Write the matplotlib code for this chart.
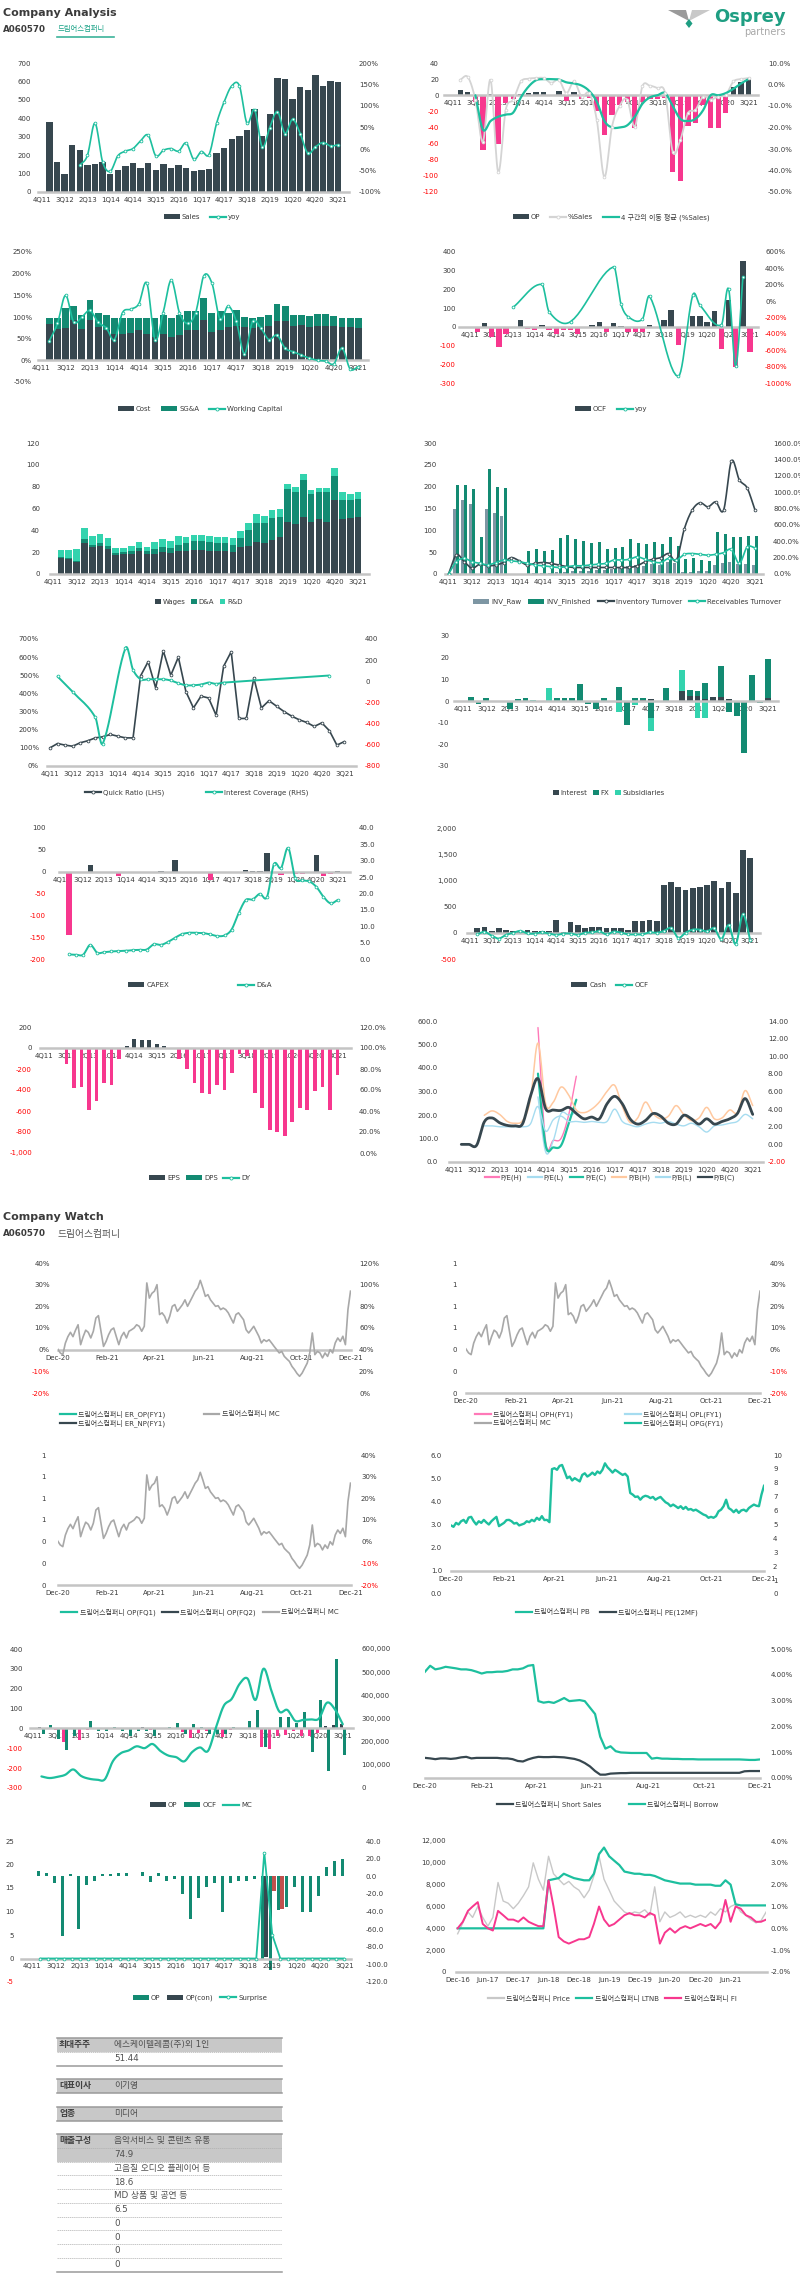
import numpy as np
import pandas as pd
import matplotlib
matplotlib.use("Agg")
import matplotlib.pyplot as plt
import matplotlib.dates as mdates
from matplotlib.patches import Rectangle, Polygon, Patch
from matplotlib.lines import Line2D

plt.rcParams['font.family'] = ['DejaVu Sans', 'Noto Sans CJK KR']
plt.rcParams['axes.unicode_minus'] = False
nan = np.nan

# ======================= DATA =======================
QUARTERS = [f"{(k + 3) % 4 + 1}Q{11 + (k + 3) // 4:02d}" for k in range(40)]

SALES = [nan, 378, 163, 95, 255, 228, 145, 152, 165, 100, 118, 140, 160, 128, 155, 118, 152, 130, 145, 132,
         115, 118, 125, 210, 238, 288, 305, 338, 448, 305, 425, 618, 615, 502, 568, 552, 635, 575, 602, 598]
SALES_YOY = [nan, nan, nan, nan, nan, -38, -15, 60, -30, -52, -16, -5, 1, 19, 32, -16, -3, 1, -5, 14,
             -24, -6, -13, 60, 110, 147, 147, 60, 91, 5, 50, 87, 36, 69, 36, -10, 5, 15, 7, 10]

OP = [nan, 6, 4, -8, -68, 2, -60, -10, -5, 2, 3, 4, 4, 0, 5, -7, 4, -5, -3, -20,
      -49, -25, -12, -8, -41, -8, -5, -5, -3, -95, -106, -38, -35, -12, -40, -40, -22, 10, 17, 20]
OP_PCT = [nan, 2.2, 3.5, -7, -26.6, 2.2, -40.6, -11.8, -7, 1.4, 2.7, 3.0, 3.0, 0.7, 2.2, -4.0, 1.4, -5.6, -4, -16.5,
          -43, -19.6, -10, -7, -19.6, -0.9, -0.6, -1.7, -4, -31.3, -25.8, -13.4, -11.8, -5.6, -7, -5.6, -4.8, 1.4, 2.5, 3.0]
OP_MA = [nan, nan, nan, -5, -21, -17, -15, -14, -13, -6, -1, 2, 2.5, 2.5, 2.3, 1.0, 0.5, -0.5, -3, -8,
         -17, -20, -20, -19, -15, -9, -6, -5, -4, -10, -16, -17, -16, -12, -5, -5, -4, -2, 0.5, 2.5]

COST = [nan, 85, 72, 75, 92, 72, 93, 76, 70, 60, 60, 63, 70, 60, 55, 60, 55, 58, 70, 70,
        92, 65, 70, 78, 80, 77, 75, 77, 80, 90, 90, 80, 82, 77, 80, 80, 80, 78, 76, 75]
SGA = [nan, 13, 25, 45, 33, 33, 47, 34, 35, 37, 37, 34, 27, 37, 42, 45, 42, 47, 43, 43,
       51, 45, 43, 32, 37, 23, 22, 23, 24, 40, 35, 25, 23, 26, 26, 26, 23, 19, 21, 22]
WC = [nan, 45, 85, 150, 88, 100, 115, 88, 75, 48, 110, 118, 130, 178, 48, 110, 185, 110, 85, 110,
      195, 178, 95, 125, 90, 15, 90, 75, 48, 58, 28, 20, 12, 5, 0, -2, -8, 28, -20, -15]

OCF = [nan, -30, 18, -55, -110, -40, 0, 35, -12, -15, 8, -15, -40, -15, -15, -40, 0, 8, 28, -30,
       22, 5, -30, -30, -30, 8, 0, 35, 92, -95, 0, 60, 60, 28, 85, -120, 145, -215, 350, -135]
OCF_YOY = [nan, nan, nan, nan, nan, nan, -75, nan, nan, nan, 205, -130, nan, nan, -250, nan, nan, nan, nan, nan,
           420, -30, -190, nan, -220, 60, nan, nan, nan, -920, nan, 70, -50, nan, nan, -290, 150, -790, 300, nan]

WAGES = [nan, 15, 14, 11, 28, 25, 26, 23, 17, 18, 18, 21, 18, 18, 20, 19, 21, 21, 22, 22,
         21, 21, 21, 20, 25, 26, 29, 28, 31, 34, 48, 46, 52, 48, 50, 48, 68, 50, 51, 52]
DA = [nan, 1, 1, 1, 4, 2, 2, 3, 2, 2, 3, 3, 3, 5, 5, 5, 6, 7, 8, 8,
      8, 7, 7, 7, 8, 14, 18, 19, 20, 18, 30, 29, 34, 25, 25, 27, 22, 18, 17, 17]
RD = [nan, 6, 7, 11, 10, 8, 9, 7, 5, 4, 5, 5, 4, 6, 7, 6, 8, 6, 6, 6,
      6, 6, 6, 6, 6, 7, 8, 6, 8, 8, 4, 5, 6, 4, 4, 4, 7, 7, 5, 6]

INV_RAW = [nan, 148, 170, 160, 0, 148, 140, 133, nan, nan, 0, 3, 3, 3, 5, 5, 8, 8, 8, 10,
           10, 12, 15, 18, 20, 18, 22, 20, 28, 25, 5, 5, 8, 8, 20, 25, 28, 22, 22, 20]
INV_FIN = [nan, 203, 203, 194, 84, 240, 200, 197, nan, nan, 52, 57, 53, 55, 83, 90, 80, 75, 72, 74,
           57, 60, 62, 80, 70, 68, 73, 68, 85, 65, 35, 36, 32, 30, 96, 92, 85, 85, 88, 88]
INV_TURN = [0, 233, 150, 70, 120, 100, 110, 140, 200, 160, 110, 130, 140, 130, 110, 90, 80, 80, 80, 80,
            80, 80, 80, 80, 100, 150, 180, 200, 250, 170, 550, 780, 870, 820, 880, 780, 1380, 1150, 1050, 780]
REC_TURN = [0, 150, 190, 150, 130, 110, 140, 170, 160, 150, 130, 110, 100, 90, 80, 90, 100, 100, 110, 120,
            130, 170, 170, 180, 210, 180, 150, 140, 190, 170, 240, 250, 240, 230, 240, 260, 300, 130, 330, 320]

QUICK = [100, 124, 115, 109, 128, 139, 155, 161, 174, 164, 155, 155, 497, 575, 430, 635, 500, 600, 410, 320,
         385, 375, 280, 550, 630, 262, 262, 485, 320, 360, 330, 300, 275, 255, 240, 218, 238, 195, 115, 135]
ICOV = [nan, 46, nan, -100, nan, nan, -340, -588, nan, nan, 315, 109, 20, 20, 20, 20, 8, -18, -37, -37,
        -30, -12, -24, -12, nan, nan, nan, nan, nan, nan, nan, nan, nan, nan, nan, nan, nan, 55, nan, nan]

INTEREST = [0, 0, 0, 0, 0, 0, 0, 0, 0, 0, 0, 0, 0, 0, 0, 0, 0, 0, 0, 0,
            -1, -1, 0, 0.5, 1, 0, 0, 0, 4.5, 2.5, 2.5, 1, 2, 2, 1, 0, 0, 0, 0, 1.5]
FX = [0, 2, -1.5, 1.5, 0, -0.5, -3.5, 1, 1.5, 0, 0, 0, 1.5, 1.2, 1.5, 8, -1.5, -3.5, 1.5, 0,
      6.5, -10, 1.5, 1, -8, 0, 6, 0, 0, 2.5, 2, 7.5, 0, 14, -5, -7, -24, 12, -1, 18]
SUBS = [0, 0, 0, 0, 0, 0, 0, 0, 0, 0.5, 0, 6, 0, 0, 0, 0, 0, 0, 0, 0,
        -4, 0, -2, -0.5, -6, -0.5, 0, 0, 10, 0, -8, -8, 0, 0, 0, 0, 0, 0, 0, 0]

CAPEX = [nan, -145, 0, 0, 16, 0, -2, 0, -10, 0, 0, 0, 0, 0, 2, 0, 26, 0, 0, 0,
         0, -20, 0, 0, 0, 0, 4, 2, 2, 42, 0, -8, 0, -5, -5, 0, 38, -10, -5, 2]
DA_LINE = [nan, 1.4, 1.3, 1.3, 4.3, 1.9, 2.1, 2.3, 2.4, 2.5, 2.7, 2.8, 2.9, 4.5, 4.3, 5.2, 6.5, 7.6, 8.0, 8.0,
           7.9, 7.5, 7.0, 7.2, 9.0, 14.0, 18.0, 18.2, 19.9, 18.9, 29.0, 27.8, 33.9, 24.7, 24.0, 23.7, 22.0, 19.0, 17.0, 18.0]

CASH = [nan, 90, 110, 35, 90, 60, 30, 40, 50, 40, 30, 40, 250, 20, 200, 150, 100, 110, 120, 90,
        100, 90, 60, 220, 220, 250, 220, 920, 960, 870, 810, 850, 880, 920, 990, 850, 960, 760, 1580, 1430]

EPS = [nan, nan, nan, -150, -380, -370, -590, -500, -330, -350, -100, 20, 85, 80, 75, 40, 20, -5, -100, -200,
       -330, -430, -440, -350, -400, -240, -60, -80, -430, -570, -780, -800, -840, -700, -570, -590, -410, -370, -590, -260]
DPS = [0] * 40

PEH = [nan] * 11 + [572, 85, 92, 100, 200, 365] + [nan] * 23
PEL = [nan] * 11 + [277, 43, 92, 206, 200, 210] + [nan] * 23
PEC = [nan] * 11 + [376, 71, 62, 70, 163, 265] + [nan] * 23
PBH = [nan, nan, nan, nan, 3.3, 3.8, 3.4, 2.6, 2.4, 2.7, 5.0, 11.5, 4.6, 4.8, 6.5, 5.6, 3.9, 3.6, 4.0, 4.8,
       6.0, 6.7, 4.3, 2.5, 3.0, 4.8, 3.5, 2.9, 3.2, 4.4, 3.4, 2.7, 3.0, 4.2, 2.9, 3.0, 3.9, 3.6, 6.1, 4.4]
PBL = [nan, nan, nan, nan, 2.1, 2.1, 2.0, 2.0, 2.0, 2.0, 2.3, 4.3, 1.5, 2.8, 3.2, 2.6, 2.6, 2.5, 2.6, 2.5,
       2.6, 4.0, 2.6, 2.2, 2.0, 2.3, 2.5, 2.4, 2.6, 2.3, 2.1, 2.4, 2.0, 1.4, 2.1, 2.2, 2.4, 2.6, 3.4, 2.9]
PBC = [nan, 0.0, 0.0, -0.1, 2.55, 3.0, 2.45, 2.15, 2.1, 2.35, 5.4, 7.46, 4.05, 3.9, 3.85, 4.2, 3.5, 2.9, 3.1, 2.9,
       4.6, 5.45, 4.6, 2.9, 2.3, 2.7, 3.5, 3.2, 2.4, 2.3, 3.3, 2.9, 2.3, 2.9, 2.3, 2.6, 2.9, 3.5, 5.2, 3.4]

# Company Watch (daily readings, Dec-20 .. Dec-21)
MC = [0.3, -1.5, -2.3, 3, 6, 8, 6, 9, 11.5, 2.3, 6, 9, 8, 5.4, 8.5, 14.6, 15.7, 8.5, 1.5, 3.8, 6.9, 9.2, 10, 6.1,
      2.3, 6.1, 8, 5.4, 8.5, 9.2, 10, 11.5, 10.8, 8.5, 10.8, 30.8, 23.8, 26, 27, 30, 16.2, 17, 15.4, 12.3, 15.4,
      20, 20.8, 17.7, 19.2, 20.8, 23, 20, 22.3, 24.6, 27, 28.5, 32, 28.5, 24.6, 25.4, 23, 21.5, 20, 20.3, 18.5,
      19.2, 18.5, 17, 14.6, 12.3, 16.2, 17, 15.4, 13.8, 9.2, 7.7, 9.2, 10.8, 8.5, 6.2, 3.1, 4.6, 3.8, 4.6, 3.1,
      1.5, 0, -1.5, -0.8, -3.1, -4.3, -5.4, -7.7, -9.2, -11, -12.3, -10.8, -8.5, -6.2, -1.5, 7.7, -2.3, -0.8,
      -1.5, -3.8, -1.5, -3.1, 0, -1.5, 3.1, 5.4, 3.8, 6.2, 2.3, 18.5, 27]
PB = [2.96, 2.9, 3.07, 3.0, 3.14, 3.2, 3.07, 3.3, 3.33, 3.14, 3.0, 3.14, 3.07, 3.2, 3.09, 3.0, 3.14, 3.24, 3.33,
      2.93, 3.0, 3.07, 3.19, 3.2, 3.14, 3.04, 3.07, 2.96, 3.0, 3.04, 3.14, 3.1, 3.2, 3.14, 3.29, 3.2, 3.36, 3.19,
      3.2, 3.1, 5.39, 5.43, 5.36, 5.53, 5.57, 5.29, 5.0, 5.07, 4.9, 5.0, 4.93, 4.86, 5.14, 5.21, 5.07, 5.14, 5.24,
      5.14, 5.29, 5.21, 5.36, 5.64, 5.47, 5.36, 5.24, 5.36, 5.29, 5.21, 5.14, 5.19, 5.07, 4.36, 4.29, 4.19, 4.21,
      4.07, 4.19, 4.24, 4.21, 4.14, 4.19, 4.07, 4.14, 4.19, 4.07, 3.96, 3.9, 3.79, 3.86, 3.79, 3.71, 3.79, 3.67,
      3.76, 3.64, 3.67, 3.6, 3.64, 3.57, 3.5, 3.43, 3.39, 3.29, 3.33, 3.29, 3.36, 3.57, 3.64, 3.79, 4.07, 3.71,
      3.64, 3.53, 3.64, 3.5, 3.61, 3.64, 3.57, 3.71, 3.79, 3.86, 3.81, 3.79, 4.29, 4.67]
BORROW = [4.12, 4.35, 4.21, 4.25, 4.31, 4.28, 4.25, 4.21, 4.21, 4.18, 4.12, 4.05, 4.1, 4.1, 4.12, 4.12, 4.15, 4.21,
          4.21, 4.25, 4.35, 4.38, 2.98, 2.92, 2.95, 2.91, 3.0, 3.1, 2.98, 3.0, 3.02, 2.98, 2.73, 2.48, 1.6, 1.14,
          1.23, 1.04, 0.99, 0.98, 0.97, 0.97, 0.97, 0.97, 0.75, 0.78, 0.75, 0.75, 0.74, 0.74, 0.73, 0.73, 0.73,
          0.72, 0.72, 0.72, 0.72, 0.72, 0.72, 0.72, 0.72, 0.72, 0.71, 0.7, 0.7, 0.72]
SHORT = [0.78, 0.76, 0.73, 0.76, 0.76, 0.74, 0.76, 0.8, 0.82, 0.76, 0.78, 0.78, 0.78, 0.78, 0.78, 0.76, 0.76, 0.73,
         0.66, 0.64, 0.72, 0.78, 0.82, 0.81, 0.81, 0.82, 0.81, 0.8, 0.77, 0.74, 0.68, 0.58, 0.45, 0.27, 0.13, 0.13,
         0.17, 0.18, 0.19, 0.19, 0.2, 0.2, 0.2, 0.2, 0.2, 0.2, 0.2, 0.2, 0.2, 0.2, 0.2, 0.2, 0.2, 0.2, 0.2, 0.2,
         0.2, 0.2, 0.2, 0.2, 0.2, 0.2, 0.26, 0.27, 0.27, 0.27]
MC_Q = [nan, 50, 43, 48, 57, 80, 52, 40, 36, 38, 115, 150, 162, 180, 172, 190, 160, 140, 133, 115,
        155, 175, 160, 260, 355, 385, 450, 472, 380, 515, 420, 330, 337, 290, 294, 296, 300, 368, 340, 275]
OPCON = [nan] * 29 + [-92, -17, -37] + [nan] * 8
SURPRISE = [nan] + [0] * 28 + [22.5, 5.0] + [0] * 9

# monthly readings Dec-16 .. Jan-22
PRICE = [3500, 4500, 5500, 5000, 6000, 5000, 4200, 5000, 8200, 6500, 6300, 5800, 6300, 7000, 7800, 10000, 8500,
         7500, 10600, 9000, 8500, 8000, 8300, 7800, 7500, 6800, 7500, 8800, 10600, 8500, 7500, 6500, 6000, 5500,
         5300, 5500, 5400, 5700, 5200, 7800, 4600, 5500, 5000, 5200, 5500, 5000, 5200, 5000, 5200, 5000, 5500,
         5200, 5800, 5500, 6000, 6200, 5500, 5200, 4800, 4500, 4700, 5500]
LTNB = [0.0, 0.0, 0.0, 0.0, 0.0, 0.0, 0.0, 0.0, 0.0, 0.0, 0.0, 0.0, 0.0, 0.0, 0.0, 0.0, 0.0, 0.0,
        2.2, 2.25, 2.3, 2.5, 2.4, 2.3, 2.25, 2.2, 2.2, 2.5, 3.4, 3.7, 3.3, 3.1, 2.9, 2.6, 2.55, 2.5, 2.5, 2.45,
        2.45, 2.4, 2.3, 2.2, 2.15, 2.1, 2.05, 2.05, 2.05, 2.0, 2.0, 2.0, 2.0, 1.95, 1.95, 2.2, 2.0, 1.1, 1.05,
        1.05, 1.05, 1.05, 1.05, 1.05]
FI = [0.0, 0.3, 0.8, 1.0, 1.2, 0.2, 0.0, -0.1, 0.8, 0.6, 0.4, 0.4, 0.3, 0.5, 0.3, 0.2, 0.1, 0.1, 2.2, 1.0,
      -0.4, -0.6, -0.7, -0.6, -0.5, -0.5, -0.4, 0.2, 1.0, 0.4, 0.1, 0.2, 0.4, 0.6, 0.7, 0.6, 0.6, 0.5, 0.7, 0.6,
      -0.7, -0.2, 0.0, -0.2, 0.0, 0.1, 0.0, 0.1, 0.2, 0.1, 0.2, 0.0, 0.3, 1.3, 0.3, 1.0, 0.9, 0.6, 0.5, 0.3,
      0.3, 0.4]

TABLE_GROUPS = [
    [('최대주주', '에스케이텔레콤(주)외 1인'), ('', '51.44')],
    [('대표이사', '이기영')],
    [('업종', '미디어')],
    [('매출구성', '음악서비스 및 콘텐츠 유통'), ('', '74.9'), ('', '고음질 오디오 플레이어 등'), ('', '18.6'),
     ('', 'MD 상품 및 공연 등'), ('', '6.5'), ('', '0'), ('', '0'), ('', '0'), ('', '0')],
]
TABLE_SHADED = [[True, False], [True], [True], [True, True] + [False] * 8]

for arr in [SALES, SALES_YOY, OP, OP_PCT, OP_MA, COST, SGA, WC, OCF, OCF_YOY, WAGES, DA, RD, INV_RAW, INV_FIN,
            INV_TURN, REC_TURN, QUICK, ICOV, INTEREST, FX, SUBS, CAPEX, DA_LINE, CASH, EPS, PEH, PBH, PBL, PBC,
            MC_Q, OPCON, SURPRISE]:
    assert len(arr) == 40, len(arr)

# ======================= STYLE =======================
W, H = 800, 2286
FS = 5.0
DARK = '#37474F'; TEAL = '#1DBF9E'; TEALD = '#138A72'; TEALL = '#33D3AE'
PINK = '#F7378E'; GRAYL = '#D4D4D4'; GRAYM = '#A8A8A8'; AXC = '#C4C4C4'
RED = '#FF0000'; TXT = '#3A3A3A'; RAW = '#7D96A3'; ORANGE = '#FFC9A0'; LBLUE = '#A6DCF0'; BROWN = '#C0504D'
XQ = np.arange(40)

fig = plt.figure(figsize=(W / 100, H / 100), dpi=100)
ov = fig.add_axes([0, 0, 1, 1])
ov.set_xlim(0, W); ov.set_ylim(H, 0); ov.axis('off')


def nz(a):
    return np.nan_to_num(np.asarray(a, float))


def add_ax(x0, y0, x1, y1):
    ax = fig.add_axes([x0 / W, 1 - y1 / H, (x1 - x0) / W, (y1 - y0) / H])
    ax.patch.set_alpha(0)
    for s in ax.spines.values():
        s.set_visible(False)
    ax.tick_params(axis='x', length=0, labelsize=FS, pad=3.5, labelcolor=TXT)
    return ax


def qax(p0, dp, xa, xb, yt, yb):
    xa = min(xa, p0 - 0.45 * dp)
    xb = max(xb, p0 + 39.45 * dp)
    ax = add_ax(xa, yt, xb, yb)
    ax.set_xlim((xa - p0) / dp, (xb - p0) / dp)
    ax.set_xticks(XQ[::3])
    ax.set_xticklabels(QUARTERS[::3])
    return ax


def dax(x0, y0, x1, y1, d0, d1, ticks, fmt='%b-%y'):
    ax = add_ax(x0, y0, x1, y1)
    ax.set_xlim(mdates.date2num(pd.Timestamp(d0)), mdates.date2num(pd.Timestamp(d1)))
    ax.set_xticks(mdates.date2num(ticks))
    ax.set_xticklabels([t.strftime(fmt) for t in ticks])
    return ax


def yax(ax, lo, hi, step, fmt, edge, red=False, right=False):
    n = int(round((hi - lo) / step)) + 1
    ticks = np.linspace(lo, hi, n)
    ax.set_ylim(lo, hi)
    ax.set_yticks(ticks)
    ax.set_yticklabels([fmt(0.0 if abs(t) < 1e-9 else t) for t in ticks])
    pos = ax.get_position()
    pad = (edge - pos.x1 * W) if right else (pos.x0 * W - edge)
    ax.tick_params(axis='y', length=0, labelsize=FS, pad=max(pad, 0) * 0.72)
    for lab, t in zip(ax.get_yticklabels(), ticks):
        lab.set_color(RED if (red and t < -1e-9) else TXT)


def base(ax, zero, lw=1.8):
    sp = ax.spines['bottom']
    sp.set_visible(True)
    sp.set_position(('data', zero))
    sp.set_color(AXC)
    sp.set_linewidth(lw)


def twin(ax):
    a2 = ax.twinx()
    for s in a2.spines.values():
        s.set_visible(False)
    a2.patch.set_alpha(0)
    return a2


def curve(x, y, n=12):
    x = np.asarray(x, float); y = np.asarray(y, float)
    m = ~np.isnan(y); x, y = x[m], y[m]
    if len(x) < 3:
        return x, y
    d = np.zeros_like(y)
    d[1:-1] = (y[2:] - y[:-2]) / (x[2:] - x[:-2])
    d[0] = (y[1] - y[0]) / (x[1] - x[0]); d[-1] = (y[-1] - y[-2]) / (x[-1] - x[-2])
    xs, ys = [], []
    t = np.linspace(0, 1, n, endpoint=False)
    h00 = 2 * t ** 3 - 3 * t ** 2 + 1; h10 = t ** 3 - 2 * t ** 2 + t
    h01 = -2 * t ** 3 + 3 * t ** 2; h11 = t ** 3 - t ** 2
    for i in range(len(x) - 1):
        h = x[i + 1] - x[i]
        xs.append(x[i] + t * h)
        ys.append(h00 * y[i] + h10 * h * d[i] + h01 * y[i + 1] + h11 * h * d[i + 1])
    xs.append([x[-1]]); ys.append([y[-1]])
    return np.concatenate(xs), np.concatenate(ys)


def sline(ax, x, y, color, lw=1.2, marker=True, smooth=True, ms=2.0, z=4):
    x = np.asarray(x, float); y = np.asarray(y, float)
    m = ~np.isnan(y)
    xs, ys = curve(x, y) if smooth else (x[m], y[m])
    ax.plot(xs, ys, color=color, lw=lw, zorder=z, solid_capstyle='round')
    if marker:
        ax.plot(x[m], y[m], ls='none', marker='o', ms=ms, mfc='white', mec=color, mew=0.6, zorder=z + 0.1)


def pn_bars(ax, x, v, pc, ncol, width):
    v = np.asarray(v, float)
    cols = [pc if (not np.isnan(a) and a >= 0) else ncol for a in v]
    ax.bar(x, nz(v), width=width, color=cols, linewidth=0, zorder=2)


def stack(ax, x, series, colors, width):
    pos = np.zeros(len(x)); neg = np.zeros(len(x))
    for s, c in zip(series, colors):
        s = nz(s)
        bottom = np.where(s >= 0, pos, neg)
        ax.bar(x, s, bottom=bottom, width=width, color=c, linewidth=0, zorder=2)
        pos = pos + np.where(s >= 0, s, 0); neg = neg + np.where(s < 0, s, 0)


def leg(items, cx, cy, ncol=None, colsp=1.4, loc='center', hl=2.3, lsp=0.3):
    hs = []
    for kind, color, label in items:
        if kind in ('bar', 'sq'):
            hs.append(Patch(facecolor=color, edgecolor='none', label=label))
        elif kind == 'line':
            hs.append(Line2D([], [], color=color, lw=1.6, label=label))
        else:
            hs.append(Line2D([], [], color=color, lw=1.6, marker='o', ms=2.2, mfc='white', mec=color, mew=0.6,
                             label=label))
    fig.legend(handles=hs, loc=loc, bbox_to_anchor=(cx / W, 1 - cy / H), ncol=ncol or len(items),
               frameon=False, fontsize=FS, handlelength=hl, handleheight=0.7, columnspacing=colsp,
               handletextpad=0.3, borderpad=0, borderaxespad=0, labelspacing=lsp, labelcolor=TXT)


F0 = lambda v: f'{v:.0f}'
FC = lambda v: f'{v:,.0f}'
F1 = lambda v: f'{v:.1f}'
F2 = lambda v: f'{v:.2f}'
P0 = lambda v: f'{v:.0f}%'
P1 = lambda v: f'{v:.1f}%'
P2 = lambda v: f'{v:.2f}%'

# ======================= HEADER =======================
HC = '#3B3B3B'
ov.text(3, 13, 'Company Analysis', fontsize=8, fontweight='bold', color=HC, va='center')
ov.text(3, 29, 'A060570', fontsize=6.3, fontweight='bold', color=HC, va='center')
ov.text(58, 29, '드림어스컴퍼니', fontsize=5.3, color='#17A185', va='center')
ov.plot([57, 114], [36.5, 36.5], color='#3CB39A', lw=1.2)
ov.text(786, 17, 'Osprey', fontsize=13, color='#1E9E82', ha='right', va='center', fontweight='bold')
ov.text(786, 32, 'partners', fontsize=7, color='#A8A8A8', ha='right', va='center')
ov.add_patch(Polygon([(668, 10), (686, 10), (689, 21)], closed=True, color='#9A9A9A', lw=0))
ov.add_patch(Polygon([(710, 10), (692, 10), (689, 21)], closed=True, color='#C8C8C8', lw=0))
ov.add_patch(Polygon([(689, 19), (692.5, 23.5), (689, 28), (685.5, 23.5)], closed=True, color='#1E9E82', lw=0))

ov.text(3, 1217, 'Company Watch', fontsize=8, fontweight='bold', color=HC, va='center')
ov.text(3, 1234, 'A060570', fontsize=6.3, fontweight='bold', color=HC, va='center')
ov.text(58, 1234, '드림어스컴퍼니', fontsize=7, color='#555555', va='center')

# ======================= ROW 1 =======================
ax = qax(41.8, 7.6, 47, 349, 63, 192)
yax(ax, 0, 700, 100, F0, 31); base(ax, 0)
ax.bar(XQ, nz(SALES), 0.85, color=DARK, linewidth=0, zorder=2)
a2 = twin(ax); yax(a2, -100, 200, 50, P0, 359, right=True)
sline(a2, XQ, SALES_YOY, TEAL)
leg([('bar', DARK, 'Sales'), ('lm', TEAL, 'yoy')], 202, 217)

ax = qax(452.6, 7.59, 444, 758, 63, 192)
yax(ax, -120, 40, 20, F0, 439, red=True); base(ax, 0)
pn_bars(ax, XQ, OP, DARK, PINK, 0.7)
a2 = twin(ax); yax(a2, -50, 10, 10, P1, 768, right=True)
sline(a2, XQ, OP_PCT, GRAYL, lw=1.3)
sline(a2, XQ, OP_MA, TEAL, lw=1.6, marker=False)
leg([('bar', DARK, 'OP'), ('lm', GRAYL, '%Sales'), ('line', TEAL, '4 구간의 이동 평균 (%Sales)')], 611, 217)

# ======================= ROW 2 =======================
ax = qax(41.2, 8.13, 45, 368, 252, 382)
yax(ax, -50, 250, 50, P0, 32); base(ax, 0)
stack(ax, XQ, [COST, SGA], [DARK, TEALD], 0.85)
sline(ax, XQ, WC, TEAL)
leg([('bar', DARK, 'Cost'), ('bar', TEALD, 'SG&A'), ('lm', TEAL, 'Working Capital')], 200, 409)

ax = qax(470.1, 7.18, 459, 758, 252, 383)
yax(ax, -300, 400, 100, F0, 456, red=True); base(ax, 0)
pn_bars(ax, XQ, OCF, DARK, PINK, 0.75)
a2 = twin(ax); yax(a2, -1000, 600, 200, P0, 765, red=True, right=True)
sline(a2, XQ, OCF_YOY, TEAL)
leg([('bar', DARK, 'OCF'), ('lm', TEAL, 'yoy')], 611, 409)

# ======================= ROW 3 =======================
ax = qax(53.1, 7.82, 51.5, 368.6, 443, 574)
yax(ax, 0, 120, 20, F0, 40); base(ax, 0)
stack(ax, XQ, [WAGES, DA, RD], [DARK, TEALD, TEALL], 0.85)
leg([('sq', DARK, 'Wages'), ('sq', TEALD, 'D&A'), ('sq', TEALL, 'R&D')], 199, 602, hl=0.8, colsp=0.8)

ax = qax(448.5, 7.86, 448, 763, 443, 574)
yax(ax, 0, 300, 50, F0, 437); base(ax, 0)
ax.bar(XQ - 0.2, nz(INV_RAW), 0.38, color=RAW, linewidth=0, zorder=2)
ax.bar(XQ + 0.2, nz(INV_FIN), 0.38, color=TEALD, linewidth=0, zorder=2)
a2 = twin(ax); yax(a2, 0, 1600, 200, P1, 773, right=True)
sline(a2, XQ, INV_TURN, DARK)
sline(a2, XQ, REC_TURN, TEAL)
leg([('bar', RAW, 'INV_Raw'), ('bar', TEALD, 'INV_Finished'), ('lm', DARK, 'Inventory Turnover'),
     ('lm', TEAL, 'Receivables Turnover')], 627, 602, colsp=1.0)

# ======================= ROW 4 =======================
ax = qax(50, 7.55, 47, 356, 639, 766)
yax(ax, 0, 700, 100, P0, 39); base(ax, 0)
sline(ax, XQ, QUICK, DARK, smooth=False)
a2 = twin(ax); yax(a2, -800, 400, 200, F0, 365, red=True, right=True)
sline(a2, XQ, ICOV, TEAL, lw=1.4)
leg([('lm', DARK, 'Quick Ratio (LHS)'), ('lm', TEAL, 'Interest Coverage (RHS)')], 197, 793, colsp=6)

ax = qax(462.9, 7.82, 453.6, 778, 636, 766)
yax(ax, -30, 30, 10, F0, 449); base(ax, 0)
stack(ax, XQ, [INTEREST, FX, SUBS], [DARK, TEALD, TEALL], 0.75)
leg([('sq', DARK, 'Interest'), ('sq', TEALD, 'FX'), ('sq', TEALL, 'Subsidiaries')], 609, 793, hl=0.8, colsp=0.8)

# ======================= ROW 5 =======================
ax = qax(61.9, 7.07, 59, 350.5, 828, 959)
yax(ax, -200, 100, 50, F0, 46, red=True); base(ax, 0)
pn_bars(ax, XQ, CAPEX, DARK, PINK, 0.75)
a2 = twin(ax); yax(a2, 0, 40, 5, F1, 359, right=True)
sline(a2, XQ, DA_LINE, TEAL, lw=1.4)
leg([('bar', DARK, 'CAPEX'), ('lm', TEAL, 'D&A')], 200, 985, colsp=10)

ax = qax(470.1, 7.18, 466.5, 760, 828, 959)
yax(ax, -500, 2000, 500, FC, 457, red=True); base(ax, 0)
ax.bar(XQ, nz(CASH), 0.8, color=DARK, linewidth=0, zorder=2)
sline(ax, XQ, OCF, TEAL, lw=1.4)
leg([('bar', DARK, 'Cash'), ('lm', TEAL, 'OCF')], 610, 985)

# ======================= ROW 6 =======================
ax = qax(43.8, 7.53, 41, 350.5, 1027, 1153)
yax(ax, -1000, 200, 200, FC, 32, red=True); base(ax, 0)
pn_bars(ax, XQ, EPS, DARK, PINK, 0.5)
ax.bar(XQ + 0.3, nz(DPS), 0.3, color=TEALD, linewidth=0, zorder=2)
a2 = twin(ax); yax(a2, 0, 120, 20, P1, 359, right=True)
leg([('bar', DARK, 'EPS'), ('bar', TEALD, 'DPS'), ('lm', TEAL, 'DY')], 200, 1178, colsp=0.8)

ax = qax(453.6, 7.67, 448.5, 763, 1021, 1162)
yax(ax, 0, 600, 100, F1, 438); base(ax, 0)
sline(ax, XQ, PEH, '#FF79B8', lw=1.0, marker=False)
sline(ax, XQ, PEL, LBLUE, lw=1.0, marker=False)
sline(ax, XQ, PEC, TEAL, lw=1.6, marker=False)
a2 = twin(ax); yax(a2, -2, 14, 2, F2, 768, red=True, right=True)
sline(a2, XQ, PBH, ORANGE, lw=1.1, marker=False)
sline(a2, XQ, PBL, LBLUE, lw=1.0, marker=False)
sline(a2, XQ, PBC, DARK, lw=2.0, marker=False)
leg([('line', '#FF79B8', 'P/E(H)'), ('line', LBLUE, 'P/E(L)'), ('line', TEAL, 'P/E(C)'),
     ('line', ORANGE, 'P/B(H)'), ('line', LBLUE, 'P/B(L)'), ('line', DARK, 'P/B(C)')], 610, 1178, colsp=0.8,
    hl=2.0)

# ======================= COMPANY WATCH =======================
D0, D1 = '2020-12-01', '2021-12-01'
WT = pd.date_range(D0, D1, freq='2MS')
MC_X = mdates.date2num(pd.date_range(D0, D1, periods=len(MC)))
PB_X = mdates.date2num(pd.date_range(D0, D1, periods=len(PB)))
BS_X = mdates.date2num(pd.date_range(D0, D1, periods=len(BORROW)))
CO = '드림어스컴퍼니'

ax = dax(57.7, 1263, 350.5, 1393, D0, D1, WT)
yax(ax, -20, 40, 10, P0, 50, red=True); base(ax, 0)
ax.plot(MC_X, MC, color=GRAYM, lw=1.2, zorder=3)
a2 = twin(ax); yax(a2, 0, 120, 20, P0, 359, right=True)
leg([('line', TEAL, f'{CO} ER_OP(FY1)'), ('line', DARK, f'{CO} ER_NP(FY1)'), ('line', GRAYM, f'{CO} MC')],
    60, 1410, ncol=2, loc='upper left', colsp=5.5, lsp=0.25)

ax = dax(466, 1263, 760, 1393, D0, D1, WT)
yax(ax, 0, 1.2, 0.2, F0, 457); base(ax, 0)
a2 = twin(ax); yax(a2, -20, 40, 10, P0, 770, red=True, right=True)
a2.plot(MC_X, MC, color=GRAYM, lw=1.2, zorder=3)
leg([('line', '#FF79B8', f'{CO} OPH(FY1)'), ('line', GRAYM, f'{CO} MC'), ('line', LBLUE, f'{CO} OPL(FY1)'),
     ('line', TEAL, f'{CO} OPG(FY1)')], 475, 1410, ncol=2, loc='upper left', colsp=7.5, lsp=0.25)

ax = dax(57.7, 1455, 350.5, 1585, D0, D1, WT)
yax(ax, 0, 1.2, 0.2, F0, 46); base(ax, 0)
a2 = twin(ax); yax(a2, -20, 40, 10, P0, 361, red=True, right=True)
a2.plot(MC_X, MC, color=GRAYM, lw=1.2, zorder=3)
leg([('line', TEAL, f'{CO} OP(FQ1)'), ('line', DARK, f'{CO} OP(FQ2)'), ('line', GRAYM, f'{CO} MC')], 200, 1612,
    colsp=1.0)

ax = dax(451, 1455, 764, 1594, D0, D1, WT)
yax(ax, 0, 6, 1, F1, 442); base(ax, 1.0)
ax.plot(PB_X, PB, color=TEAL, lw=1.7, zorder=3)
a2 = twin(ax); yax(a2, 0, 10, 1, F0, 773, right=True)
leg([('line', TEAL, f'{CO} PB'), ('line', DARK, f'{CO} PE(12MF)')], 607, 1612, colsp=1.5)

ax = qax(33.5, 7.93, 31, 353, 1649, 1788)
yax(ax, -300, 400, 100, F0, 23, red=True); base(ax, 0)
pn_bars(ax, XQ - 0.2, OP, DARK, PINK, 0.38)
ax.bar(XQ + 0.2, nz(OCF), 0.38, color=TEALD, linewidth=0, zorder=2)
a2 = twin(ax); yax(a2, 0, 600000, 100000, FC, 361, right=True)
sline(a2, XQ, np.asarray(MC_Q, float) * 1000, TEAL, lw=1.6, marker=False)
leg([('bar', DARK, 'OP'), ('bar', TEALD, 'OCF'), ('line', TEAL, 'MC')], 201, 1805, colsp=1.0)

ax = dax(425, 1649, 760, 1778, D0, D1, WT)
ax.yaxis.tick_right()
yax(ax, 0, 5, 1, P2, 770.6, right=True); base(ax, 0)
ax.plot(BS_X, SHORT, color=DARK, lw=1.6, zorder=3)
ax.plot(BS_X, BORROW, color=TEAL, lw=1.6, zorder=3)
leg([('line', DARK, f'{CO} Short Sales'), ('line', TEAL, f'{CO} Borrow')], 608, 1804, colsp=4)

ax = qax(32, 8.01, 20.6, 350.5, 1841, 1982)
yax(ax, -5, 25, 5, F0, 14, red=True); base(ax, 0)
a2 = twin(ax); yax(a2, -120, 40, 20, F1, 366, right=True)
a2.bar(XQ - 0.21, nz(OP), 0.42, color=TEALD, linewidth=0, zorder=2)
con_cols = [BROWN if (not np.isnan(v) and v > -50) else DARK for v in OPCON]
a2.bar(XQ + 0.21, nz(OPCON), 0.42, color=con_cols, linewidth=0, zorder=2)
ax.set_zorder(a2.get_zorder() + 1); ax.patch.set_visible(False)
sline(ax, XQ, SURPRISE, TEAL, smooth=False, lw=1.3)
leg([('bar', TEALD, 'OP'), ('bar', DARK, 'OP(con)'), ('lm', TEAL, 'Surprise')], 200, 1998, colsp=1.0)

W4T = pd.date_range('2016-12-01', '2021-06-01', freq='6MS')
W4_X = mdates.date2num(pd.date_range('2016-12-01', periods=len(PRICE), freq='MS'))
ax = dax(456, 1841, 766.5, 1972, '2016-11-21', '2022-01-03', W4T)
yax(ax, 0, 12000, 2000, FC, 446); base(ax, 0)
ax.plot(W4_X, PRICE, color='#C8C8C8', lw=1.0, zorder=3)
a2 = twin(ax); yax(a2, -2, 4, 1, P1, 770.6, right=True)
a2.plot(W4_X, LTNB, color=TEAL, lw=1.6, zorder=3)
a2.plot(W4_X, FI, color=PINK, lw=1.4, zorder=3)
leg([('line', '#C8C8C8', f'{CO} Price'), ('line', TEAL, f'{CO} LTNB'), ('line', PINK, f'{CO} FI')], 612, 1998,
    colsp=1.0)

# ======================= TABLE =======================
GROUP_TOPS = [2038, 2079, 2107, 2134]
ROWH = 13.75
TX0, TX1, VX = 57, 282, 114
for g, (rows, top) in enumerate(zip(TABLE_GROUPS, GROUP_TOPS)):
    for r, (lab, val) in enumerate(rows):
        y0 = top + r * ROWH
        if TABLE_SHADED[g][r]:
            ov.add_patch(Rectangle((TX0, y0), TX1 - TX0, ROWH, color='#C8C8C8', lw=0))
        if r > 0:
            ov.plot([TX0, TX1], [y0, y0], color='#B0B0B0', lw=0.5, ls=(0, (2, 1)))
        if lab:
            ov.text(TX0 + 2, y0 + ROWH / 2, lab, fontsize=6.3, fontweight='bold', color='#404040', va='center')
        ov.text(VX, y0 + ROWH / 2, val, fontsize=6.3, color='#505050', va='center')
    bot = top + len(rows) * ROWH
    ov.plot([TX0, TX1], [top, top], color='#9A9A9A', lw=1.1)
    ov.plot([TX0, TX1], [bot, bot], color='#9A9A9A', lw=1.1)

fig.savefig('out.png', dpi=100)
